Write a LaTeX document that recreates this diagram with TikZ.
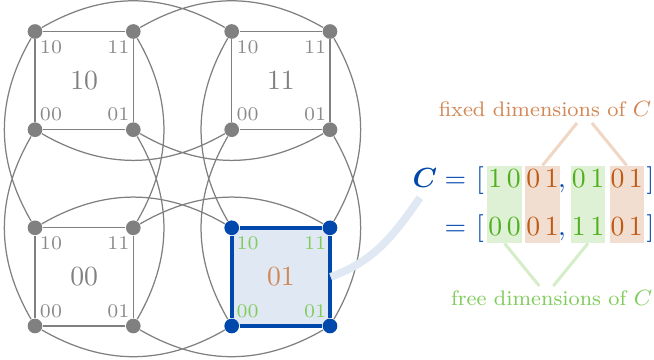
\documentclass[tikz,border=0pt]{standalone}
\usepackage{bm}
\definecolor{edgegray}{RGB}{128,128,128}
\definecolor{labgray}{RGB}{138,138,138}
\definecolor{cblue}{RGB}{0,72,172}
\definecolor{lblue}{RGB}{224,232,243}
\definecolor{dgreen}{RGB}{80,175,30}
\definecolor{lgreen}{RGB}{128,204,92}
\definecolor{gfill}{RGB}{222,241,213}
\definecolor{gstroke}{RGB}{214,238,200}
\definecolor{dorange}{RGB}{190,90,20}
\definecolor{lorange}{RGB}{210,135,85}
\definecolor{ofill}{RGB}{242,222,208}
\definecolor{ostroke}{RGB}{240,214,196}

\tikzset{
  edge/.style={draw=edgegray, line width=0.45pt},
  vtx/.style={circle, fill=edgegray, inner sep=0pt, minimum size=5.3pt},
  bvtx/.style={vtx, fill=cblue},
  corner/.style={text=labgray, font=\scriptsize, inner sep=0pt},
  bcorner/.style={corner, text=lgreen},
  sqlab/.style={text=edgegray, inner sep=0pt},
  hlsq/.style={fill=lblue, text=lorange, minimum size=35.5pt, inner sep=0pt},
  hledge/.style={draw=cblue, line width=1.45pt},
  band/.style={draw=lblue, line width=2.8pt},
  eqs/.style={text=cblue, inner sep=0pt, anchor=base},
  gdig/.style={eqs, text=dgreen},
  odig/.style={eqs, text=dorange},
  gbox/.style={fill=gfill, minimum width=12.4pt, minimum height=27.7pt, inner sep=0pt},
  obox/.style={gbox, fill=ofill},
  fixline/.style={draw=ostroke, line width=1.1pt},
  freeline/.style={draw=gstroke, line width=1.1pt}
}

\begin{document}
\begin{tikzpicture}[x=0.361pt, y=0.361pt]
        \useasboundingbox (0,0) rectangle (654,-360);

        \node[hlsq] (c01) at (280.9,-276.9) {01};
        \node[sqlab] (c10) at (84.2,-80.6) {10};
        \node[sqlab] (c11) at (280.9,-80.6) {11};
        \node[sqlab] (c00) at (84.2,-276.9) {00};

        \node[vtx] (v1010) at (35,-31.5) {};
        \node[vtx] (v1011) at (133.3,-31.5) {};
        \node[vtx] (v1000) at (35,-129.7) {};
        \node[vtx] (v1001) at (133.3,-129.7) {};
        \node[vtx] (v1110) at (231.7,-31.5) {};
        \node[vtx] (v1111) at (330,-31.5) {};
        \node[vtx] (v1100) at (231.7,-129.7) {};
        \node[vtx] (v1101) at (330,-129.7) {};
        \node[vtx] (v0010) at (35,-227.8) {};
        \node[vtx] (v0011) at (133.3,-227.8) {};
        \node[vtx] (v0000) at (35,-326) {};
        \node[vtx] (v0001) at (133.3,-326) {};
        \node[bvtx] (v0110) at (231.7,-227.8) {};
        \node[bvtx] (v0111) at (330,-227.8) {};
        \node[bvtx] (v0100) at (231.7,-326) {};
        \node[bvtx] (v0101) at (330,-326) {};

        \node[corner] (l1010) at (51,-47) {10};
        \node[corner] (l1011) at (118.4,-47) {11};
        \node[corner] (l1000) at (51,-114.6) {00};
        \node[corner] (l1001) at (118.4,-114.6) {01};
        \node[corner] (l1110) at (247.7,-47) {10};
        \node[corner] (l1111) at (315.1,-47) {11};
        \node[corner] (l1100) at (247.7,-114.6) {00};
        \node[corner] (l1101) at (315.1,-114.6) {01};
        \node[corner] (l0010) at (51,-243.3) {10};
        \node[corner] (l0011) at (118.4,-243.3) {11};
        \node[corner] (l0000) at (51,-310.9) {00};
        \node[corner] (l0001) at (118.4,-310.9) {01};
        \node[bcorner] (l0110) at (247.7,-243.3) {10};
        \node[bcorner] (l0111) at (315.1,-243.3) {11};
        \node[bcorner] (l0100) at (247.7,-310.9) {00};
        \node[bcorner] (l0101) at (315.1,-310.9) {01};

        \draw[edge] (v1010)--(v1011)--(v1001)--(v1000)--(v1010);
        \draw[edge] (v1110)--(v1111)--(v1101)--(v1100)--(v1110);
        \draw[edge] (v0010)--(v0011)--(v0001)--(v0000)--(v0010);

        \draw[edge] (v1010) to[bend left=30] (v1110) (v1011) to[bend left=30] (v1111)
                    (v1000) to[bend right=30] (v1100) (v1001) to[bend right=30] (v1101);
        \draw[edge] (v0010) to[bend left=30] (v0110) (v0011) to[bend left=30] (v0111)
                    (v0000) to[bend right=30] (v0100) (v0001) to[bend right=30] (v0101);
        \draw[edge] (v1010) to[bend right=30] (v0010) (v1000) to[bend right=30] (v0000)
                    (v1011) to[bend left=30] (v0011) (v1001) to[bend left=30] (v0001);
        \draw[edge] (v1110) to[bend right=30] (v0110) (v1100) to[bend right=30] (v0100)
                    (v1111) to[bend left=30] (v0111) (v1101) to[bend left=30] (v0101);

        \draw[hledge] (v0110)--(v0111)--(v0101)--(v0100)--(v0110);

        \node[gbox] (g1) at (504.5,-204.4) {};
        \node[obox] (o1) at (542.5,-204.4) {};
        \node[gbox] (g2) at (588,-204.4) {};
        \node[obox] (o2) at (626.7,-204.4) {};

        \node[eqs, inner sep=3.3pt] (C) at (425,-188) {$\bm{C}$};
        \node[eqs] (eqa) at (455.5,-188) {$=$};
        \node[eqs] (lba) at (480,-188) {$[$};
        \node[gdig] (d1) at (504.5,-188) {$1\,0$};
        \node[odig] (d2) at (542.5,-188) {$0\,1$};
        \node[eqs] (cma) at (562,-188) {$,$};
        \node[gdig] (d3) at (588,-188) {$0\,1$};
        \node[odig] (d4) at (626.7,-188) {$0\,1$};
        \node[eqs] (rba) at (650.5,-188) {$]$};

        \node[eqs] (eqb) at (455.5,-235.5) {$=$};
        \node[eqs] (lbb) at (480,-235.5) {$[$};
        \node[gdig] (d5) at (504.5,-235.5) {$0\,0$};
        \node[odig] (d6) at (542.5,-235.5) {$0\,1$};
        \node[eqs] (cmb) at (562,-235.5) {$,$};
        \node[gdig] (d7) at (588,-235.5) {$1\,1$};
        \node[odig] (d8) at (626.7,-235.5) {$0\,1$};
        \node[eqs] (rbb) at (650.5,-235.5) {$]$};

        \draw[band] (c01.east) to[out=20, in=-125] ([xshift=-1.8pt]C.south);

        \node[anchor=base, text=lorange, font=\fontsize{7.6}{9}\selectfont] (fixed) at (545,-116.7) {fixed dimensions of $C$};
        \node[anchor=base, text=lgreen, font=\fontsize{7.6}{9}\selectfont] (free) at (551.7,-306) {free dimensions of $C$};
        \coordinate (fa) at (577,-123);
        \coordinate (fb) at (592,-123);
        \coordinate (fc) at (539.3,-286);
        \coordinate (fd) at (553.3,-286);
        \draw[fixline] (fa)--(o1.north);
        \draw[fixline] (fb)--(o2.north);
        \draw[freeline] (fc)--(g1.south);
        \draw[freeline] (fd)--(g2.south);

    \end{tikzpicture}
\end{document}
